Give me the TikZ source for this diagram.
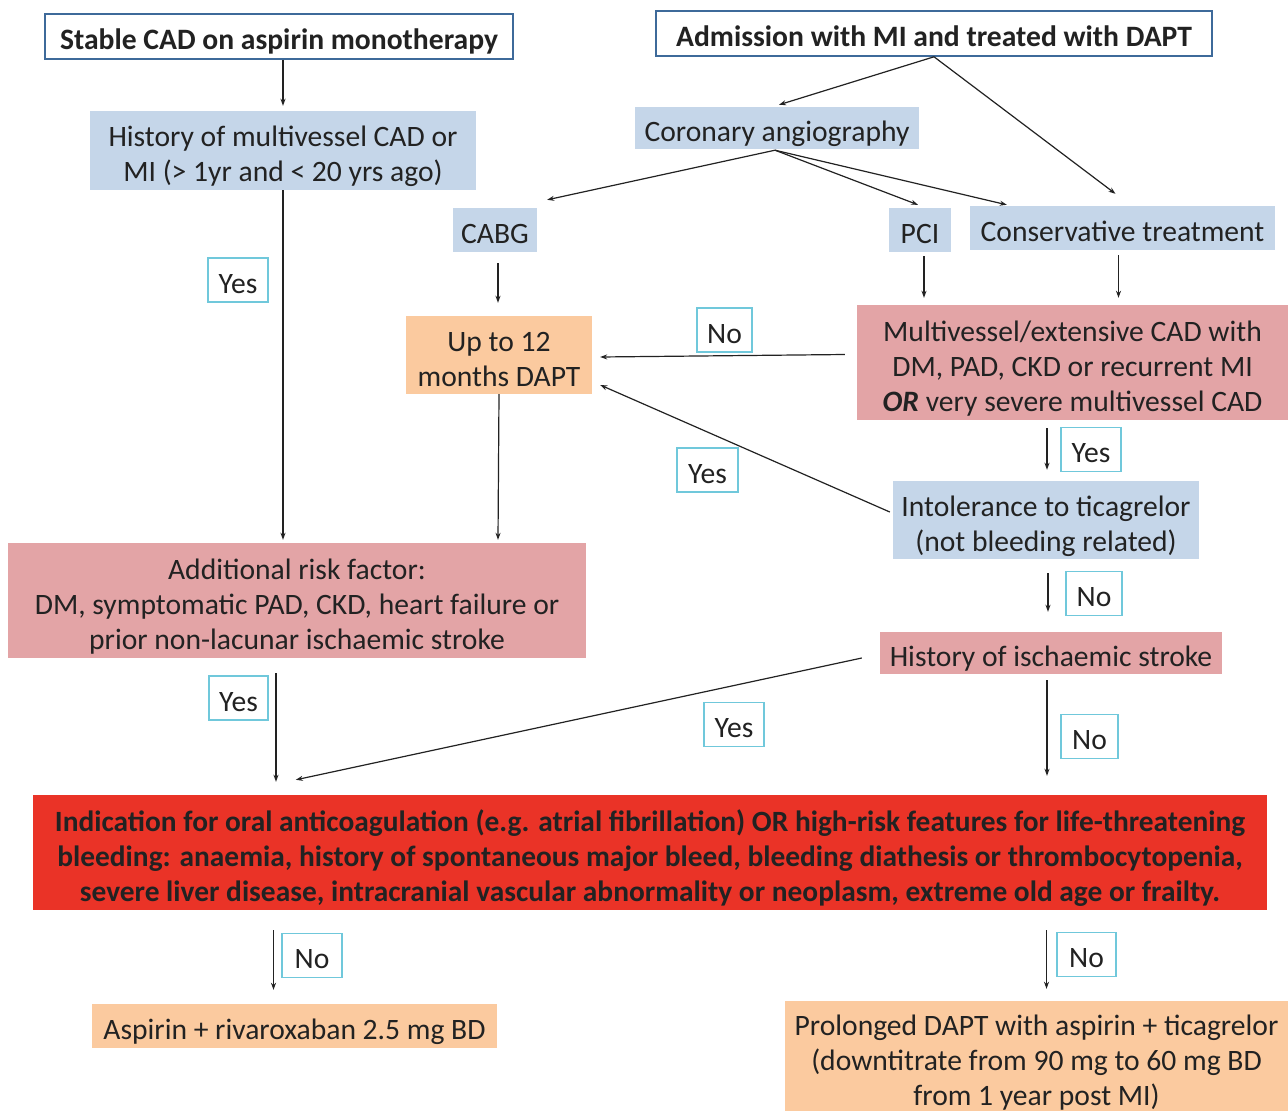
\documentclass[tikz,border=0pt]{standalone}
\usepackage{fontspec}
\setmainfont{Carlito}
\usetikzlibrary{calc,arrows.meta}
\definecolor{bluefill}{HTML}{C5D6E9}
\definecolor{pinkfill}{HTML}{E3A4A6}
\definecolor{orangefill}{HTML}{FBCA9F}
\definecolor{redfill}{HTML}{EA3327}
\definecolor{topborder}{HTML}{3E6A9A}
\definecolor{labborder}{HTML}{70C8DB}
\definecolor{txt}{HTML}{222222}
\newcommand{\firststrut}[1][35pt]{\rule{0pt}{#1}}
\begin{document}
\begin{tikzpicture}[x=1pt,y=-1pt,
  base/.style={inner sep=0pt, align=center, text=txt, font=\fontsize{29.6}{35}\selectfont,
    execute at begin node={\rule[-7pt]{0pt}{40pt}},
    execute at end node={\rule[-7pt]{0pt}{7pt}}},
  topbox/.style={base, draw=topborder, line width=1.6pt, fill=white, font=\fontsize{29.6}{35}\selectfont\bfseries},
  bluebox/.style={base, fill=bluefill},
  pinkbox/.style={base, fill=pinkfill},
  orangebox/.style={base, fill=orangefill},
  redbox/.style={base, fill=redfill, font=\fontsize{29.4}{35}\selectfont\bfseries},
  lab/.style={base, draw=labborder, line width=1.5pt, fill=white, minimum height=44pt},
  arr/.style={draw=txt, line width=1.2pt, -{Stealth[length=7pt,width=5pt]}}
]
\useasboundingbox (0,0) rectangle (1288,1111);
\fill[white] (0,0) rectangle (1288,1111);

% nodes
\node[topbox, minimum width=468pt, minimum height=45pt] (stable) at (279,36.5) {Stable CAD on aspirin monotherapy};
\node[topbox, minimum width=556pt, minimum height=45pt] (adm) at (934,33.5) {Admission with MI and treated with DAPT};
\node[bluebox, minimum width=386pt, minimum height=79pt] (hist) at (283,150.5) {\firststrut[33pt]History of multivessel CAD or\\MI (> 1yr and < 20 yrs ago)};
\node[bluebox, minimum width=284pt, minimum height=42pt] (cor) at (777,128) {Coronary angiography};
\node[bluebox, minimum width=84pt, minimum height=44pt] (cabg) at (495,230) {CABG};
\node[bluebox, minimum width=62pt, minimum height=44pt] (pci) at (920,230) {PCI};
\node[bluebox, minimum width=305pt, minimum height=44pt] (cons) at (1122.5,228) {Conservative treatment};
\node[orangebox, minimum width=186pt, minimum height=78pt] (up) at (499,355) {\firststrut[34pt]Up to 12\\months DAPT};
\node[pinkbox, minimum width=431pt, minimum height=115pt] (mv) at (1072.5,362.5) {\firststrut Multivessel/extensive CAD with\\DM, PAD, CKD or recurrent MI\\\textbf{\textit{OR}} very severe multivessel CAD};
\node[bluebox, minimum width=306pt, minimum height=78pt] (intol) at (1046,520) {\firststrut[34pt]Intolerance to ticagrelor\\(not bleeding related)};
\node[pinkbox, minimum width=578pt, minimum height=115pt] (add) at (297,600.5) {\firststrut Additional risk factor:\\DM, symptomatic PAD, CKD, heart failure or\\prior non-lacunar ischaemic stroke};
\node[pinkbox, minimum width=342pt, minimum height=42pt] (hs) at (1051,653) {History of ischaemic stroke};
\node[redbox, minimum width=1234pt, minimum height=115pt] (ind) at (650,852.5) {\firststrut Indication for oral anticoagulation (e.g. atrial fibrillation) OR high-risk features for life-threatening\\bleeding: anaemia, history of spontaneous major bleed, bleeding diathesis or thrombocytopenia,\\severe liver disease, intracranial vascular abnormality or neoplasm, extreme old age or frailty.};
\node[orangebox, minimum width=405pt, minimum height=44pt] (asp) at (294.5,1026) {Aspirin + rivaroxaban 2.5 mg BD};
\node[orangebox, minimum width=503pt, minimum height=109pt] (pro) at (1036.5,1056.5) {\firststrut[34pt]Prolonged DAPT with aspirin + ticagrelor\\(downtitrate from 90 mg to 60 mg BD\\from 1 year post MI)};

% labels
\node[lab, minimum width=60pt] (l1) at (238,280) {Yes};
\node[lab, minimum width=55pt] (l2) at (724.5,330) {No};
\node[lab, minimum width=61pt] (l3) at (707.5,470) {Yes};
\node[lab, minimum width=60pt] (l4) at (1091,449.5) {Yes};
\node[lab, minimum width=56pt] (l5) at (1094,593.5) {No};
\node[lab, minimum width=59pt] (l6) at (238.5,698) {Yes};
\node[lab, minimum width=60pt] (l7) at (734,724.5) {Yes};
\node[lab, minimum width=57pt] (l8) at (1089.5,736.5) {No};
\node[lab, minimum width=60pt] (l9) at (312,955.5) {No};
\node[lab, minimum width=59pt] (l10) at (1086.5,954.5) {No};

% connectors
\draw[arr] (hist.north |- stable.south) -- ($(hist.north)+(0,-5)$);
\draw[arr] (hist.south) -- ($(hist.south |- add.north)+(0,-3)$);
\draw[arr] ($(up.north |- cabg.south)+(-1,11)$) -- ($(up.north)+(-1,-13)$);
\draw[arr] (up.south) -- ($(up.south |- add.north)+(-1,-3)$);
\draw[arr] (adm.south) -- ($(cor.north)+(2,-2)$);
\draw[arr] (adm.south) -- ($(cons.north)+(-7,-12)$);
\draw[arr] ($(cor.south)+(-2,1)$) -- ($(cabg.north east)+(10,-8)$);
\draw[arr] ($(cor.south)+(-2,1)$) -- ($(pci.north)+(-2,-3)$);
\draw[arr] ($(cor.south)+(-2,1)$) -- ($(cons.north west)+(37,-1)$);
\draw[arr] ($(pci.south)+(4,4)$) -- ($(pci.south |- mv.north)+(4,-7)$);
\draw[arr] ($(cons.south)+(-4,5)$) -- ($(cons.south |- mv.north)+(-4,-7)$);
\draw[arr] ($(mv.west)+(-12,-8)$) -- ($(up.east)+(8,2)$);
\draw[arr] ($(intol.west)+(-3,-8)$) -- ($(up.east)+(8,30)$);
\draw[arr] ($(intol.north |- mv.south)+(1,8)$) -- ($(intol.north)+(1,-11)$);
\draw[arr] ($(intol.south)+(2,14)$) -- ($(intol.south |- hs.north)+(2,-20)$);
\draw[arr] ($(hs.south)+(-4,6)$) -- ($(hs.south |- ind.north)+(-4,-19)$);
\draw[arr] ($(hs.west)+(-18,5)$) -- ($(ind.north west)+(263,-15)$);
\draw[arr] ($(add.south)+(-21,15)$) -- ($(add.south |- ind.north)+(-21,-13)$);
\draw[arr] ($(asp.north |- ind.south)+(-21,20)$) -- ($(asp.north)+(-21,-14)$);
\draw[arr] ($(pro.north |- ind.south)+(10,20)$) -- ($(pro.north)+(10,-12)$);
\end{tikzpicture}
\end{document}
